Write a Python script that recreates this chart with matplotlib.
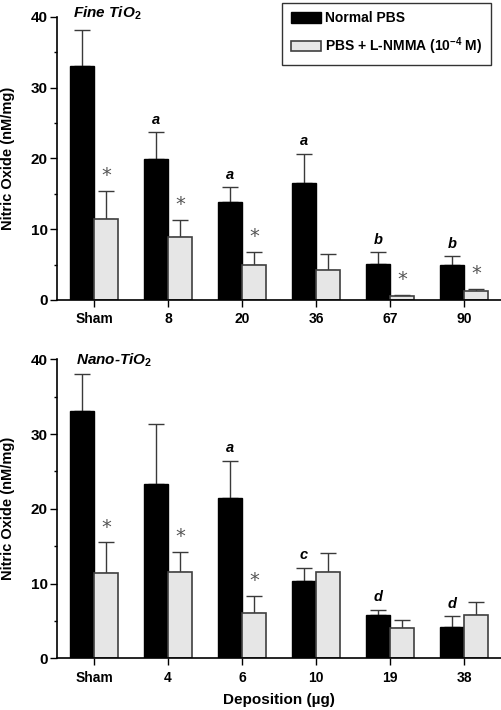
import numpy as np
import matplotlib
matplotlib.use("Agg")
import matplotlib.pyplot as plt

plt.rcParams['font.family'] = ['Liberation Sans', 'DejaVu Sans']
plt.rcParams['font.weight'] = 'bold'
plt.rcParams['mathtext.fontset'] = 'custom'
plt.rcParams['mathtext.rm'] = 'Liberation Sans:bold'
plt.rcParams['mathtext.it'] = 'Liberation Sans:bold:italic'
plt.rcParams['mathtext.bf'] = 'Liberation Sans:bold'

# data
fine_doses = ['Sham', '8', '20', '36', '67', '90']
fine_normal = [33.1, 19.9, 13.8, 16.6, 5.1, 4.9]
fine_normal_sd = [5.0, 3.8, 2.1, 4.1, 1.65, 1.3]
fine_lnmma = [11.4, 8.9, 4.95, 4.25, 0.55, 1.27]
fine_lnmma_sd = [4.0, 2.4, 1.85, 2.25, 0.15, 0.33]
fine_letters = ['', 'a', 'a', 'a', 'b', 'b']
fine_stars = [True, True, True, False, True, True]

nano_doses = ['Sham', '4', '6', '10', '19', '38']
nano_normal = [33.1, 23.3, 21.4, 10.3, 5.75, 4.15]
nano_normal_sd = [5.0, 8.1, 5.0, 1.8, 0.75, 1.5]
nano_lnmma = [11.4, 11.6, 6.1, 11.5, 4.05, 5.85]
nano_lnmma_sd = [4.1, 2.6, 2.2, 2.6, 1.05, 1.65]
nano_letters = ['', '', 'a', 'c', 'd', 'd']
nano_stars = [True, True, True, False, False, False]

black = '#000000'
light = '#e6e6e6'
errc = '#3a3a3a'
w = 0.324

fig = plt.figure(figsize=(5.02, 7.10), dpi=100)
ax1 = fig.add_axes([0.1135, 0.5775, 0.8845, 0.3986])
ax2 = fig.add_axes([0.1135, 0.0728, 0.8845, 0.4211])


def panel(ax, doses, normal, normal_sd, lnmma, lnmma_sd, letters, stars):
    x = np.arange(len(doses))
    b1 = ax.bar(x - w / 2, normal, w, color=black, edgecolor=black, linewidth=1, zorder=2)
    b2 = ax.bar(x + w / 2, lnmma, w, color=light, edgecolor='#404040', linewidth=1.2, zorder=2)
    ax.errorbar(x - w / 2, normal, yerr=[np.zeros(len(x)), normal_sd], fmt='none',
                ecolor=errc, elinewidth=1, capsize=5.5, capthick=1, zorder=1)
    ax.errorbar(x + w / 2, lnmma, yerr=[np.zeros(len(x)), lnmma_sd], fmt='none',
                ecolor=errc, elinewidth=1, capsize=5.5, capthick=1, zorder=1)
    for i in range(len(x)):
        if letters[i]:
            ax.annotate(letters[i], (x[i] - w / 2, normal[i] + normal_sd[i]),
                        xytext=(0, 9), textcoords='offset points', ha='center', va='center',
                        fontsize=10.5, fontweight='bold', fontstyle='italic')
        if stars[i]:
            ax.annotate('*', (x[i] + w / 2, lnmma[i] + lnmma_sd[i]),
                        xytext=(0, 11), textcoords='offset points', ha='center', va='center',
                        fontsize=14, fontweight='normal', color='#555555', family='DejaVu Sans')
    ax.set_xlim(-0.5, len(x) - 0.5)
    ax.set_ylim(0, 40)
    ax.set_xticks(x)
    ax.set_xticklabels(doses, fontsize=10, fontweight='bold')
    ax.set_yticks([0, 10, 20, 30, 40])
    ax.set_yticks([5, 15, 25, 35], minor=True)
    ax.tick_params(axis='y', labelsize=11, length=5, width=1, pad=1.5)
    ax.tick_params(axis='y', which='minor', length=2.5, width=1)
    ax.tick_params(axis='x', length=5, width=1, pad=4)
    for s in ['top', 'right']:
        ax.spines[s].set_visible(False)
    for s in ['left', 'bottom']:
        ax.spines[s].set_linewidth(1.2)
    ax.set_ylabel('Nitric Oxide (nM/mg)', fontsize=10.5, fontweight='bold')
    ax.yaxis.set_label_coords(-0.094, 0.5)
    return b1, b2


b1, b2 = panel(ax1, fine_doses, fine_normal, fine_normal_sd, fine_lnmma, fine_lnmma_sd,
               fine_letters, fine_stars)
panel(ax2, nano_doses, nano_normal, nano_normal_sd, nano_lnmma, nano_lnmma_sd,
      nano_letters, nano_stars)

ax2.set_xlabel('Deposition (\u00b5g)', fontsize=11, fontweight='bold', labelpad=6)

fig.text(73 / 502, 1 - 13 / 710, 'Fine TiO$_\\mathit{2}$', fontsize=11, fontweight='bold',
         fontstyle='italic', va='center', ha='left')
fig.text(76 / 502, 1 - 360 / 710, 'Nano-TiO$_\\mathit{2}$', fontsize=11, fontweight='bold',
         fontstyle='italic', va='center', ha='left')

leg = fig.legend([b1, b2], ['Normal PBS', 'PBS + L-NMMA (10$^{-4}$ M)'],
                 loc='upper right', bbox_to_anchor=(491 / 502, 1 - 3 / 710),
                 fontsize=10, frameon=True, fancybox=False, edgecolor='black',
                 handlelength=2.2, handleheight=0.75, handletextpad=0.3,
                 labelspacing=0.7, borderpad=0.6, borderaxespad=0)
leg.get_frame().set_linewidth(1)
for t in leg.get_texts():
    t.set_fontweight('bold')

plt.savefig('out.png', dpi=100)
